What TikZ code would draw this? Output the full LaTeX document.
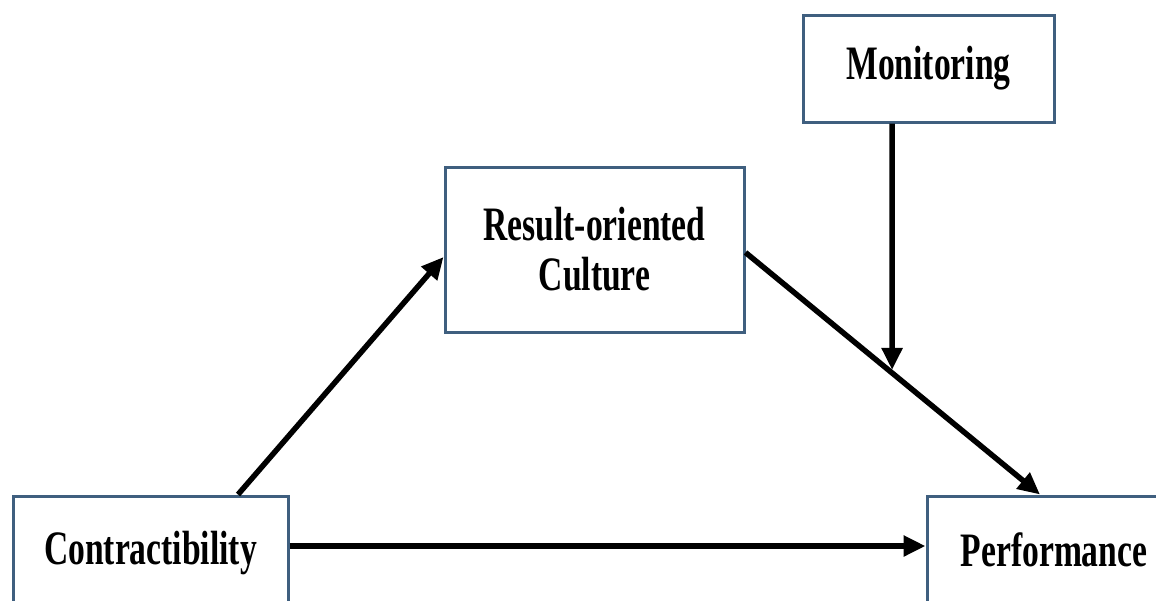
\documentclass[tikz,border=0pt]{standalone}
\usepackage{fontspec}
\usepackage{graphicx}
\setmainfont{Liberation Serif}
\usetikzlibrary{arrows.meta,calc}
\definecolor{boxline}{HTML}{3F5F7F}
\tikzset{
  box/.style={draw=boxline, line width=3pt, fill=white, inner sep=0pt, align=center,
    font=\fontsize{48}{50}\selectfont\bfseries},
  arr/.style={line width=5.5pt, -{Triangle[length=22pt,width=20pt]}}
}
\newcommand{\sq}[1]{\scalebox{0.7}[1]{#1}}
\begin{document}
\begin{tikzpicture}[x=1pt,y=-1pt]
\useasboundingbox (0,0) rectangle (1156,600);
\fill[white] (0,0) rectangle (1156,600);
\node[box, minimum width=251pt, minimum height=107pt] (mon) at (928.5,68.5) {\sq{Monitoring}};
\node[box, minimum width=299pt, minimum height=165pt] (rc) at (594.5,249.5) {\sq{Result-oriented}\\\sq{Culture}};
\node[box, minimum width=275pt, minimum height=114pt] (con) at (150.5,553) {\raisebox{6pt}{\sq{Contractibility}}};
\node[box, minimum width=254pt, minimum height=114pt] (perf) at (1054,553) {\raisebox{6pt}{\sq{Performance}}};
\coordinate (d0) at ([yshift=-3pt]rc.east);
\coordinate (d1) at ([xshift=-14pt]perf.north);
\coordinate (m0) at ([xshift=-36.5pt]mon.south);
\path (m0) ++(0,400) coordinate (m2);
\coordinate (m1) at (intersection of d0--d1 and m0--m2);
\draw[arr] ([xshift=87.5pt]con.north) -- ([yshift=-7.5pt]rc.west);
\draw[arr] (d0) -- (d1);
\draw[arr, shorten >=3pt] (m0) -- (m1);
\draw[arr] ([yshift=7pt]con.east) -- ([yshift=7pt]perf.west);
\end{tikzpicture}
\end{document}
